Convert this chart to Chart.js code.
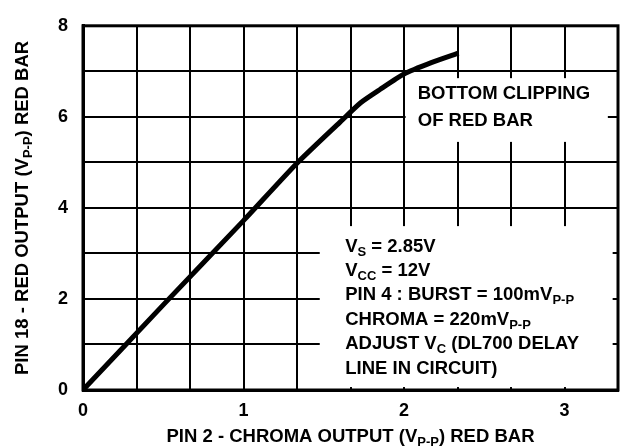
<!DOCTYPE html>
<html><head><meta charset="utf-8">
<script src="https://cdn.jsdelivr.net/npm/chart.js@4"></script>
<style>html,body{margin:0;padding:0;background:#fff}#wrap{width:628px;height:448px}</style>
</head><body><div id="wrap"><canvas id="c" width="628" height="448"></canvas></div>
<script>
// Data
const chromaOut = [0, 0.5, 1.0, 1.33, 1.6, 1.73, 1.85, 2.0, 2.17, 2.34];
const redOut    = [0, 1.87, 3.72, 4.97, 5.88, 6.31, 6.6, 6.94, 7.19, 7.4];
const xTickLabels = ['0', '1', '2', '3'];
const yTickLabels = ['0', '2', '4', '6', '8'];
const xTitle = [['PIN 2 - CHROMA OUTPUT (V'], ['P-P', 1], [') RED BAR']];
const yTitle = [['PIN 18 - RED OUTPUT (V'], ['P-P', 1], [') RED BAR']];
const note1 = [[['BOTTOM CLIPPING']], [['OF RED BAR']]];
const note2 = [
  [['V'], ['S', 1], [' = 2.85V']],
  [['V'], ['CC', 1], [' = 12V']],
  [['PIN 4 : BURST = 100mV'], ['P-P', 1]],
  [['CHROMA = 220mV'], ['P-P', 1]],
  [['ADJUST V'], ['C', 1], [' (DL700 DELAY']],
  [['LINE IN CIRCUIT)']]
];

const FONT = 'bold 18.5px "Liberation Sans", Arial, sans-serif';
const SUBFONT = 'bold 13px "Liberation Sans", Arial, sans-serif';

function richWidth(ctx, parts) {
  let w = 0;
  for (const p of parts) { ctx.font = p[1] ? SUBFONT : FONT; w += ctx.measureText(p[0]).width; }
  return w;
}
function drawRich(ctx, parts, x, y) {
  ctx.textBaseline = 'middle'; ctx.textAlign = 'left'; ctx.fillStyle = '#000';
  for (const p of parts) {
    ctx.font = p[1] ? SUBFONT : FONT;
    ctx.fillText(p[0], x, y + (p[1] ? 5.5 : 0));
    x += ctx.measureText(p[0]).width;
  }
}

const notesPlugin = {
  id: 'notes',
  beforeDatasetsDraw(chart) {
    const ctx = chart.ctx, xs = chart.scales.x, ys = chart.scales.y;
    ctx.save();
    ctx.fillStyle = '#fff';
    const box = (x0, x1, y0, y1) => {
      const a = xs.getPixelForValue(x0), b = xs.getPixelForValue(x1);
      const c = ys.getPixelForValue(y0), d = ys.getPixelForValue(y1);
      ctx.fillRect(a, c, b - a, d - c);
    };
    box(2.01, 3.27, 6.85, 5.45);
    box(1.475, 3.30, 3.6, 0.065);
    ctx.restore();
  },
  afterDraw(chart) {
    const ctx = chart.ctx, xs = chart.scales.x, ys = chart.scales.y, ca = chart.chartArea;
    ctx.save();
    let x = xs.getPixelForValue(2.067) + 3, y = ys.getPixelForValue(6.44) - 3;
    note1.forEach((ln, i) => drawRich(ctx, ln, x, y + i * 27.5));
    x = xs.getPixelForValue(1.615) + 3; y = ys.getPixelForValue(3.13) - 1;
    note2.forEach((ln, i) => drawRich(ctx, ln, x, y + i * 24.4));
    const wx = richWidth(ctx, xTitle);
    drawRich(ctx, xTitle, (ca.left + ca.right) / 2 - wx / 2, 437);
    const wy = richWidth(ctx, yTitle);
    ctx.translate(23, (ca.top + ca.bottom) / 2);
    ctx.rotate(-Math.PI / 2);
    drawRich(ctx, yTitle, -wy / 2, 0);
    ctx.restore();
  }
};

new Chart(document.getElementById('c'), {
  type: 'line',
  data: {
    datasets: [{
      data: chromaOut.map((v, i) => ({ x: v, y: redOut[i] })),
      borderColor: '#000', borderWidth: 5, pointRadius: 0, tension: 0.2, fill: false
    }]
  },
  options: {
    responsive: false, animation: false,
    layout: { padding: { left: 0, top: 19, right: 6, bottom: 0 } },
    plugins: { legend: { display: false }, tooltip: { enabled: false } },
    scales: {
      x: {
        type: 'linear', min: 0, max: 10 / 3,
        afterBuildTicks(s) { s.ticks = Array.from({ length: 11 }, (_, k) => ({ value: k / 3 })); },
        afterFit(s) { s.height = 58; },
        ticks: {
          autoSkip: false, maxRotation: 0, padding: 10, color: '#000',
          font: { family: '"Liberation Sans", Arial, sans-serif', size: 18, weight: 'bold' },
          callback(v, i) { return i % 3 === 0 ? xTickLabels[i / 3] : ''; }
        },
        grid: { color: '#000', lineWidth: 2, drawTicks: false },
        border: { color: '#000', width: 3 }
      },
      y: {
        type: 'linear', min: 0, max: 8,
        afterBuildTicks(s) { s.ticks = Array.from({ length: 9 }, (_, k) => ({ value: k })); },
        afterFit(s) { s.width = 83; },
        ticks: {
          autoSkip: false, padding: 15, color: '#000',
          font: { family: '"Liberation Sans", Arial, sans-serif', size: 18, weight: 'bold' },
          callback(v, i) { return i % 2 === 0 ? yTickLabels[i / 2] : ''; }
        },
        grid: { color: '#000', lineWidth: 2, drawTicks: false },
        border: { color: '#000', width: 3 }
      }
    }
  },
  plugins: [notesPlugin, {
    id: 'frame',
    afterDatasetsDraw(chart) {
      const ctx = chart.ctx, ca = chart.chartArea;
      ctx.save(); ctx.strokeStyle = '#000'; ctx.lineWidth = 3;
      ctx.strokeRect(ca.left, ca.top, ca.right - ca.left, ca.bottom - ca.top);
      ctx.restore();
    }
  }]
});
</script></body></html>
